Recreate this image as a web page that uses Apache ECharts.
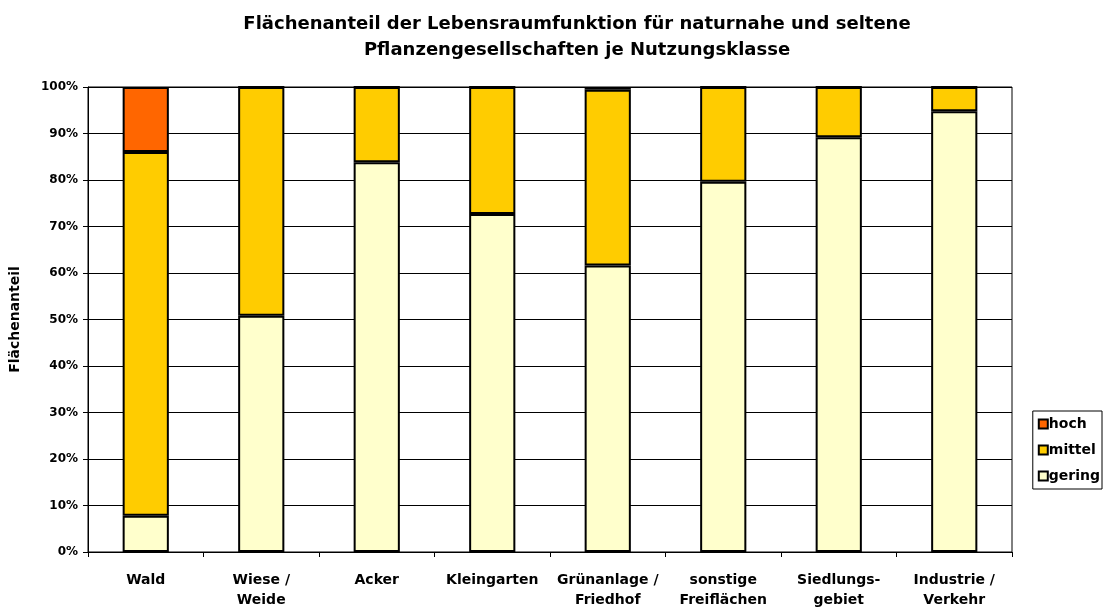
<!DOCTYPE html>
<html>
<head>
<meta charset="utf-8">
<script src="https://cdn.jsdelivr.net/npm/echarts@6/dist/echarts.min.js"></script>
<style>html,body{margin:0;padding:0;background:#fff}#c{width:1105px;height:610px}</style>
</head>
<body>
<div id="c"></div>
<script>
const categories = ["Wald", "Wiese /\nWeide", "Acker", "Kleingarten", "Grünanlage /\nFriedhof", "sonstige\nFreiflächen", "Siedlungs-\ngebiet", "Industrie /\nVerkehr"];
const gering = [7.8, 50.8, 83.8, 72.7, 61.6, 79.6, 89.2, 94.8];
const mittel = [78.2, 49.2, 16.2, 27.3, 37.8, 20.4, 10.8, 5.2];
const hoch = [14.0, 0, 0, 0, 0.6, 0, 0, 0];
const yTicks = [0, 10, 20, 30, 40, 50, 60, 70, 80, 90, 100];

const font = "'DejaVu Sans', sans-serif";
const chart = echarts.init(document.getElementById('c'));
const barStyle = (c) => ({ color: c, borderColor: '#000', borderWidth: 2 });
chart.setOption({
  animation: false,
  backgroundColor: '#fff',
  title: {
    text: 'Flächenanteil der Lebensraumfunktion für naturnahe und seltene\nPflanzengesellschaften je Nutzungsklasse',
    left: 572, top: 6, textAlign: 'center',
    textStyle: { fontFamily: font, fontSize: 18, fontWeight: 'bold', color: '#000', lineHeight: 26 }
  },
  legend: {
    orient: 'vertical', right: 3, top: 411,
    data: ['hoch', 'mittel', 'gering'],
    icon: 'rect', itemWidth: 9, itemHeight: 9, itemGap: 12,
    borderColor: '#000', borderWidth: 1, padding: [6, 2, 6, 5],
    textStyle: { fontFamily: font, fontSize: 14, fontWeight: 'bold', color: '#000', padding: [0, 0, 0, -4] },
    selectedMode: false
  },
  grid: { left: 87, right: 93, top: 87, bottom: 57, show: true, borderColor: '#000', borderWidth: 1, backgroundColor: 'transparent' },
  xAxis: {
    type: 'category', data: categories,
    axisLine: { lineStyle: { color: '#000', width: 1 } },
    axisTick: { show: true, alignWithLabel: false, length: 5, lineStyle: { color: '#000' } },
    axisLabel: { fontFamily: font, fontSize: 14, fontWeight: 'bold', color: '#000', margin: 18, lineHeight: 20, interval: 0 }
  },
  yAxis: {
    type: 'value', min: 0, max: 100, interval: 10,
    name: 'Flächenanteil', nameLocation: 'middle', nameGap: 66, nameRotate: 90,
    nameTextStyle: { fontFamily: font, fontSize: 14, fontWeight: 'bold', color: '#000' },
    axisLine: { show: true, lineStyle: { color: '#000' } },
    axisTick: { show: true, length: 5, lineStyle: { color: '#000' } },
    splitLine: { show: true, lineStyle: { color: '#000', width: 1 } },
    axisLabel: { fontFamily: font, fontSize: 12, fontWeight: 'bold', color: '#000', margin: 10,
      formatter: v => yTicks.includes(v) ? v + '%' : '' }
  },
  series: [
    { name: 'gering', type: 'bar', stack: 's', data: gering, barWidth: '40%', itemStyle: barStyle('#FFFFCC') },
    { name: 'mittel', type: 'bar', stack: 's', data: mittel, barWidth: '40%', itemStyle: barStyle('#FFCC00') },
    { name: 'hoch', type: 'bar', stack: 's', data: hoch, barWidth: '40%', itemStyle: barStyle('#FF6600') }
  ]
});
</script>
</body>
</html>
